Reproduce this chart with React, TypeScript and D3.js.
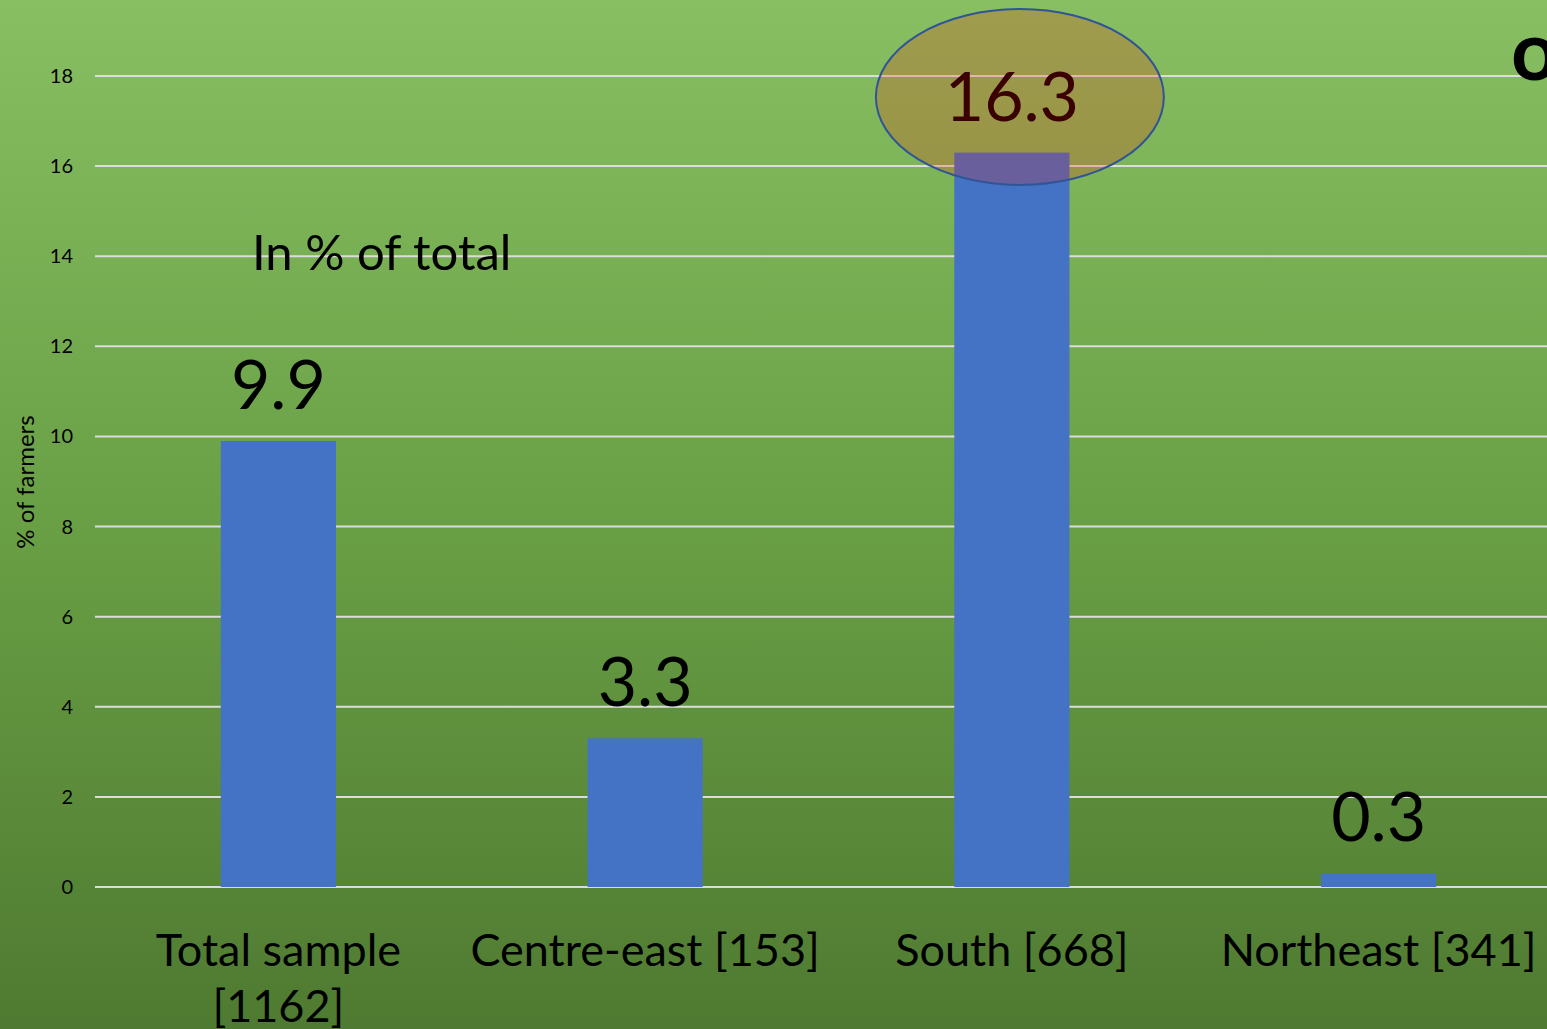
import React from "react";
import * as d3 from "d3";

const categories = ["Total sample [1162]", "Centre-east [153]", "South [668]", "Northeast [341]"];
const categoryLines = [["Total sample", "[1162]"], ["Centre-east [153]"], ["South [668]"], ["Northeast [341]"]];
const values = [9.9, 3.3, 16.3, 0.3];
const yTicks = [0, 2, 4, 6, 8, 10, 12, 14, 16, 18];
const highlighted = "South [668]";

const W = 1547;
const H = 1029;
const FONT = "Lato, 'Noto Sans', sans-serif";

export default function App() {
  const x = d3.scaleBand<string>().domain(categories).range([95, 1562]).paddingInner(0.686).paddingOuter(0.343);
  const y = d3.scaleLinear().domain([0, 18]).range([887, 76]);
  const bw = x.bandwidth();

  return (
    <svg width={W} height={H} style={{ position: "absolute", left: 0, top: 0, display: "block" }}>
      <defs>
        <linearGradient id="bg" x1="0" y1="0" x2="0" y2="1">
          <stop offset="0" stopColor="#89bf63" />
          <stop offset="0.5" stopColor="#6aa045" />
          <stop offset="1" stopColor="#4f7a31" />
        </linearGradient>
      </defs>
      <rect x={0} y={0} width={W} height={H} fill="url(#bg)" />
      {yTicks.map((t) => (
        <line key={t} x1={95} x2={W} y1={y(t)} y2={y(t)} stroke="#dcdcdc" strokeWidth={2} />
      ))}
      {yTicks.map((t) => (
        <text key={"l" + t} x={73} y={y(t)} dy="0.35em" textAnchor="end" fontFamily={FONT} fontSize={20} fill="#000">
          {t}
        </text>
      ))}
      <text transform={`translate(34,482) rotate(-90)`} textAnchor="middle" fontFamily={FONT} fontSize={24} fill="#000">
        % of farmers
      </text>
      {categories.map((c, i) => (
        <rect key={c} x={x(c)} y={y(values[i])} width={bw} height={y(0) - y(values[i])} fill="#4472c4" />
      ))}
      <ellipse cx={x(highlighted)! + bw / 2 + 8} cy={97} rx={144} ry={88} fill="#ff1500" fillOpacity={0.2} stroke="#2f5597" strokeWidth={2} />
      {categories.map((c, i) => (
        <text key={"v" + c} x={x(c)! + bw / 2} y={y(values[i]) - 32} textAnchor="middle" fontFamily={FONT} fontSize={68} fill={c === highlighted ? "#3b0000" : "#000"}>
          {values[i].toFixed(1)}
        </text>
      ))}
      {categories.map((c, i) => (
        <text key={"c" + c} x={x(c)! + bw / 2} y={966} textAnchor="middle" fontFamily={FONT} fontSize={45} fill="#000">
          {categoryLines[i].map((ln, j) => (
            <tspan key={j} x={x(c)! + bw / 2} dy={j === 0 ? 0 : 56}>{ln}</tspan>
          ))}
        </text>
      ))}
      <text x={252} y={270} fontFamily={FONT} fontSize={49} fill="#000">In % of total</text>
      <text x={1511} y={80} fontFamily={FONT} fontSize={82} fontWeight="bold" fill="#000">o</text>
    </svg>
  );
}
